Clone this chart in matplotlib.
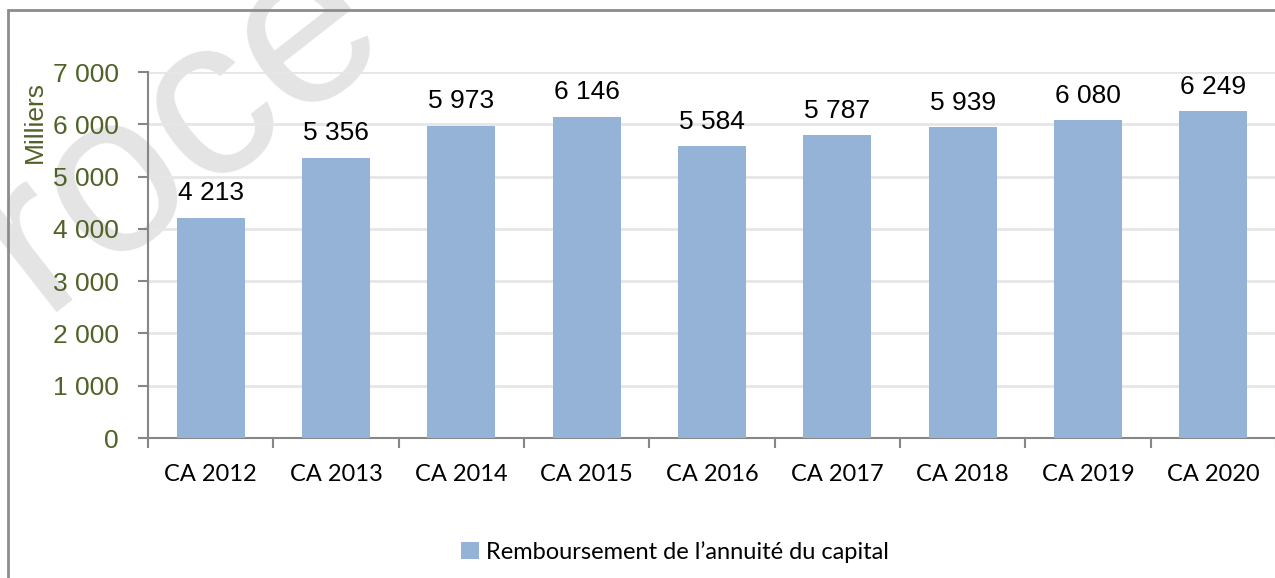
import matplotlib.pyplot as plt
from matplotlib.patches import Rectangle

categories = ['CA 2012', 'CA 2013', 'CA 2014', 'CA 2015', 'CA 2016',
              'CA 2017', 'CA 2018', 'CA 2019', 'CA 2020']
values = [4213, 5356, 5973, 6146, 5584, 5787, 5939, 6080, 6249]
yticks = [0, 1000, 2000, 3000, 4000, 5000, 6000, 7000]


def fmt(v):
    return f"{v:,}".replace(",", " ")


green = '#4F6228'
spine_gray = '#868686'
bar_color = '#95B3D7'

fig = plt.figure(figsize=(12.75, 5.78), dpi=100)

# watermark (behind everything)
fig.text(180 / 1275, 1 - 128 / 578, 'roce', fontsize=165, color='#e4e4e4',
         rotation=38, rotation_mode='anchor', ha='center', va='center',
         family='Liberation Sans', zorder=-5)

# outer chart frame
fig.patches.append(Rectangle((8 / 1275, -0.1), 1.2, 1 - 10 / 578 + 0.1,
                             transform=fig.transFigure, fill=False,
                             edgecolor='#8c8c8c', linewidth=2, zorder=1))

ax = fig.add_axes([148 / 1275, 1 - 438 / 578, 1128 / 1275, 366 / 578])
ax.patch.set_alpha(0)

x = range(len(categories))
bars = ax.bar(x, values, width=0.54, color=bar_color, zorder=3,
              label='Remboursement de l’annuité du capital')

for xi, v in zip(x, values):
    ax.annotate(fmt(v), (xi, v), xytext=(0, 9), textcoords='offset points',
                ha='center', va='bottom', fontsize=19,
                family='Liberation Sans', color='black')

ax.set_xlim(-0.5, len(categories) - 0.5)
ax.set_ylim(0, 7000)
ax.set_yticks(yticks)
ax.set_yticklabels([fmt(t) for t in yticks], fontsize=19,
                   family='Liberation Sans', color=green)
ax.set_xticks(list(x))
ax.set_xticklabels(categories, fontsize=17, family='Lato')
ax.set_xticks([i - 0.5 for i in range(len(categories) + 1)], minor=True)

ax.tick_params(axis='x', which='major', length=0, pad=19)
ax.tick_params(axis='x', which='minor', length=7, width=1.5,
               color=spine_gray, direction='out')
ax.tick_params(axis='y', length=7, width=1.5, color=spine_gray,
               direction='out', pad=14)

ax.grid(axis='y', color='#e6e6e6', linewidth=2, zorder=0)
for s in ['top', 'right']:
    ax.spines[s].set_visible(False)
for s in ['left', 'bottom']:
    ax.spines[s].set_color(spine_gray)
    ax.spines[s].set_linewidth(1.5)

fig.text(35 / 1275, 1 - 122 / 578, 'Milliers', rotation=90, fontsize=19,
         family='Liberation Sans', color=green, ha='center', va='center')

fig.legend(handles=[bars], loc='center', bbox_to_anchor=(675 / 1275, 1 - 552 / 578),
           frameon=False, prop={'family': 'Lato', 'size': 17},
           handlelength=0.75, handleheight=0.75, handletextpad=0.3)

fig.savefig('out.png', dpi=100)
